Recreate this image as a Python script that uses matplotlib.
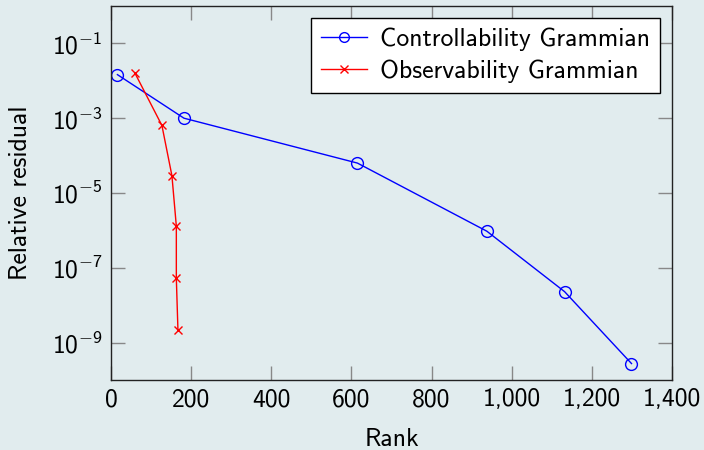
import math

import matplotlib
matplotlib.use("Agg")
import matplotlib.pyplot as plt
from matplotlib.ticker import FuncFormatter, FixedLocator

# data
ctrl_rank = [16, 182, 615, 938, 1132, 1299]
ctrl_res = [1.46e-2, 1.0e-3, 6.3e-5, 9.5e-7, 2.3e-8, 2.75e-10]
obs_rank = [60, 127, 152, 163, 163, 167]
obs_res = [1.58e-2, 6.4e-4, 2.9e-5, 1.3e-6, 5.2e-8, 2.2e-9]

y_ticks = [1e-1, 1e-3, 1e-5, 1e-7, 1e-9]
x_ticks = [0, 200, 400, 600, 800, 1000, 1200, 1400]

BG = "#e1ecee"
FS = 18.5

plt.rcParams["font.family"] = ["cmss10", "DejaVu Sans"]
plt.rcParams["mathtext.fontset"] = "custom"
plt.rcParams["mathtext.rm"] = "cmss10"
plt.rcParams["mathtext.it"] = "cmss10"
plt.rcParams["mathtext.sf"] = "cmss10"
plt.rcParams["axes.unicode_minus"] = False

fig = plt.figure(figsize=(7.04, 4.5), dpi=100, facecolor=BG)
ax = fig.add_axes([0.1577, 0.1556, 0.9545 - 0.1577, 0.9867 - 0.1556])
ax.set_facecolor(BG)

ax.plot(ctrl_rank, ctrl_res, color="blue", linewidth=1.0, marker="o",
        markersize=8.5, markerfacecolor="none", markeredgewidth=1.0,
        label="Controllability Grammian")
ax.plot(obs_rank, obs_res, color="red", linewidth=1.0, marker="x",
        markersize=6, markeredgewidth=1.0, label="Observability Grammian")

ax.set_yscale("log")
ax.set_xlim(0, 1400)
ax.set_ylim(1e-10, 1)
ax.yaxis.set_major_locator(FixedLocator(y_ticks))
ax.yaxis.set_minor_locator(FixedLocator([]))
ax.yaxis.set_major_formatter(FuncFormatter(
    lambda v, p: r"$10^{%d}$" % round(math.log10(v))))
ax.xaxis.set_major_locator(FixedLocator(x_ticks))
ax.xaxis.set_major_formatter(FuncFormatter(lambda v, p: f"{int(v):,}"))

ax.tick_params(direction="in", length=10, width=1.0, color="#888888",
               labelsize=FS, top=True, right=True, pad=6)
for s in ax.spines.values():
    s.set_linewidth(1.0)
    s.set_color("#222222")

ax.set_xlabel("Rank", fontsize=FS, labelpad=12)
ax.set_ylabel("Relative residual", fontsize=FS, labelpad=14)

leg = ax.legend(loc="upper right", fontsize=FS, frameon=True, fancybox=False,
                edgecolor="black", framealpha=1.0, handlelength=1.8,
                borderpad=0.4, labelspacing=0.3, handletextpad=0.5,
                borderaxespad=0.45)
leg.get_frame().set_linewidth(1.0)
leg.legend_handles[0].set_markersize(7)
leg.legend_handles[1].set_markersize(5.5)

fig.savefig("out.png", dpi=100, facecolor=BG)
